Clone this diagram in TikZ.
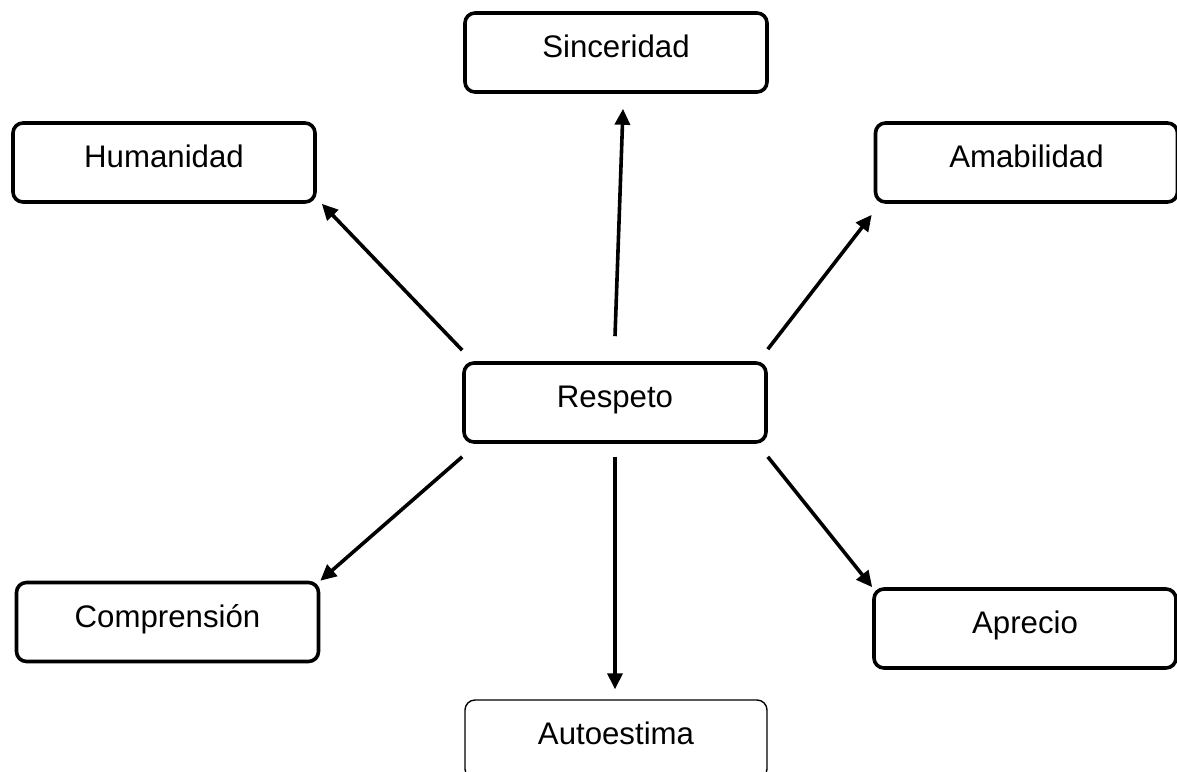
\documentclass[tikz,border=0pt]{standalone}
\usepackage{fontspec}
\setmainfont{Liberation Sans}
\usetikzlibrary{arrows.meta}
\tikzset{
  valor/.style={draw, line width=1.8pt, rounded corners=5pt, minimum width=151pt, minimum height=39.5pt,
    text height=0.8em, text depth=0.3em, font=\fontsize{15.6}{18}\selectfont},
  flecha/.style={line width=1.8pt, -{Triangle[length=8pt,width=7.5pt]}}
}
\begin{document}
\begin{tikzpicture}[x=0.5pt, y=0.5pt]
            \useasboundingbox (0,0) rectangle (1177,-771);
            \node[valor] (res) at (615,-402.5) {Respeto};
            \node[valor] (sin) at (616,-52.5) {Sinceridad};
            \node[valor] (hum) at (164,-162.5) {Humanidad};
            \node[valor] (ama) at (1026.5,-162.5) {Amabilidad};
            \node[valor] (com) at (167.5,-622) {Comprensión};
            \node[valor] (apr) at (1025,-628.5) {Aprecio};
            \node[valor, line width=0.7pt] (aut) at (616,-739.5) {Autoestima};
            \draw[flecha] ([yshift=12.5pt]res.north) -- ([xshift=3.5pt,yshift=-7.5pt]sin.south);
            \draw[flecha] ([yshift=5.5pt]res.north west) -- ([xshift=2.5pt]hum.south east);
            \draw[flecha] ([yshift=6pt]res.north east) -- ([xshift=-1pt,yshift=-5.5pt]ama.south west);
            \draw[flecha] ([yshift=-6.5pt]res.south west) -- (com.north east);
            \draw[flecha] ([yshift=-6.5pt]res.south east) -- (apr.north west);
            \draw[flecha] ([yshift=-6.5pt]res.south) -- ([xshift=-0.5pt,yshift=5pt]aut.north);
        \end{tikzpicture}
\end{document}
